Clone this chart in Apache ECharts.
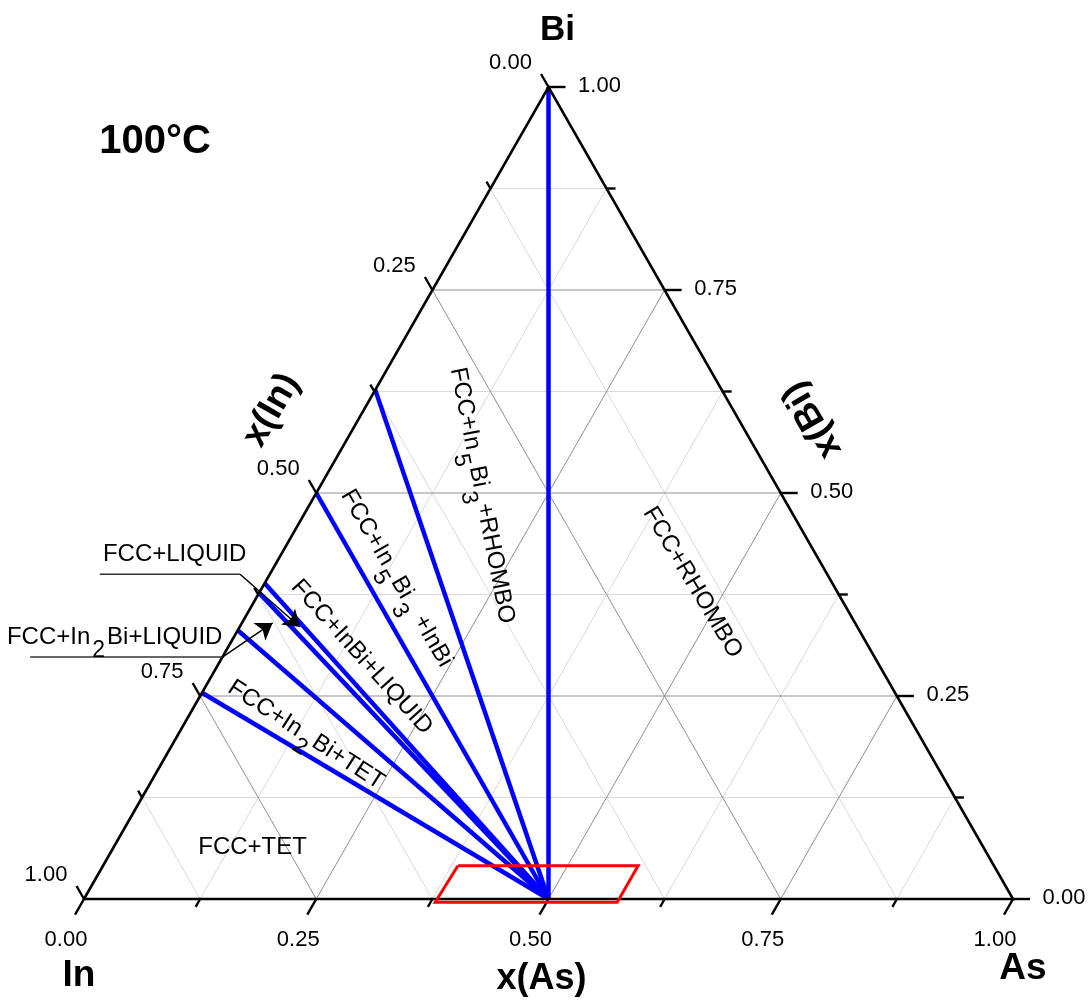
<!DOCTYPE html>
<html><head><meta charset="utf-8">
<script src="https://cdn.jsdelivr.net/npm/echarts@6/dist/echarts.min.js"></script>
<style>html,body{margin:0;padding:0;background:#fff}#c{width:1092px;height:1003px}</style>
</head><body><div id="c"></div>
<script>
// ===== DATA: ternary compositions given as [x(As), x(Bi)];  x(In) = 1 - x(As) - x(Bi) =====
const tickValues      = [0, 0.125, 0.25, 0.375, 0.5, 0.625, 0.75, 0.875, 1];
const majorTickValues = [0, 0.25, 0.5, 0.75, 1];
const tickLabels      = ['0.00', '0.25', '0.50', '0.75', '1.00'];
const leftTickLabels  = ['1.00', '0.75', '0.50', '0.25', '0.00'];   // x(In) along In→Bi edge
// tie lines: all start at InAs and end on the In–Bi edge
const tieStartAs = 0.5, tieStartBi = 0.0;
const tieEndAs = [0, 0, 0, 0, 0, 0, 0];
const tieEndBi = [1.0, 0.627, 0.5, 0.389, 0.377, 0.331, 0.254];
// red zoom box
const boxAs = [0.382, 0.576, 0.576, 0.380, 0.382];
const boxBi = [0.041, 0.041, -0.004, -0.004, 0.041];
// phase-region labels
const phaseText = [
  '{n|FCC+In}{s|5}{n|Bi}{s|3}{n|+RHOMBO}',
  '{n|FCC+In}{s|5}{n|Bi}{s|3}{n| +InBi}',
  '{n|FCC+InBi+LIQUID}',
  '{n|FCC+In}{s|2}{n|Bi+TET}',
  '{n|FCC+RHOMBO}',
  '{n|FCC+TET}',
  '{n|FCC+LIQUID}',
  '{n|FCC+In}{s|2}{n|Bi+LIQUID}'
];
const phaseAs  = [0.180, 0.139, 0.150, 0.138, 0.460, 0.150, -0.115, -0.128];
const phaseBi  = [0.497, 0.395, 0.298, 0.202, 0.390, 0.063, 0.425, 0.322];
const phaseRot = [-79, -60, -48, -33, -59, 0, 0, 0];
// callouts (underline + arrow) for the two narrow regions
const calloutUnderAs = [[-0.183, -0.032], [-0.207, 0.000]];
const calloutUnderBi = [[0.400, 0.400], [0.298, 0.298]];
const calloutArrowAs = [0.065, 0.033];
const calloutArrowBi = [0.335, 0.340];

// ===== helpers =====
const GW = 929, GH = 812;
const T = (as, bi) => [as + bi / 2, bi];
const seg = (a, b) => ({ coords: [a, b] });
const tDiag = L => L / Math.sqrt((GW / 2) ** 2 + GH ** 2);
const tHor = L => L / GW;

const minorGrid = [], majorGrid = [];
tickValues.slice(1, -1).forEach(c => {
  const arr = majorTickValues.includes(c) ? majorGrid : minorGrid;
  arr.push(seg(T(0, c), T(1 - c, c)));          // constant Bi
  arr.push(seg(T(c, 0), T(c, 1 - c)));          // constant As
  arr.push(seg(T(1 - c, 0), T(0, 1 - c)));      // constant In
});

const ticks = [];
tickValues.forEach(c => {
  const major = majorTickValues.includes(c);
  let t = tDiag(major ? 18 : 9);
  ticks.push(seg(T(c, 0), T(c, -t)));                       // bottom x(As)
  t = tDiag(major ? 15 : 8);
  ticks.push(seg(T(0, 1 - c), T(-t, 1 - c + t)));           // left x(In)
  t = tHor(major ? 17 : 9);
  ticks.push(seg(T(1 - c, c), T(1 - c + t, c)));            // right x(Bi)
});

const ties = tieEndBi.map((b, i) => seg(T(tieStartAs, tieStartBi), T(tieEndAs[i], b)));
const box = [{ coords: boxAs.map((a, i) => T(a, boxBi[i])) }];
const edges = [{ coords: [T(0, 0), T(1, 0), T(0, 1), T(0, 0)] }];
const underlines = calloutUnderAs.map((a, i) => seg(T(a[0], calloutUnderBi[i][0]), T(a[1], calloutUnderBi[i][1])));
const arrows = calloutUnderAs.map((a, i) => seg(T(a[1], calloutUnderBi[i][1]), T(calloutArrowAs[i], calloutArrowBi[i])));

const FONT = 'Liberation Sans';
const rich = {
  n: { fontSize: 24, lineHeight: 27, fontFamily: FONT, fill: '#000' },
  s: { fontSize: 23, lineHeight: 50, verticalAlign: 'bottom', fontFamily: FONT, fill: '#000', padding: [0, 2, 0, 2] }
};

// text annotations: position (data space), pixel offset, style
const texts = [];
majorTickValues.forEach((c, i) => {
  texts.push({ pos: T(c, 0), text: tickLabels[i], off: [-18, 41] });
  texts.push({ pos: T(0, c), text: leftTickLabels[i], off: [-38, -24] });
  texts.push({ pos: T(1 - c, c), text: tickLabels[i], off: [51, -1] });
});
const bold = (text, pos, off, size, rot) => ({ pos, text, off, size, bold: true, rot: rot || 0 });
texts.push(bold('Bi', T(0, 1), [9, -57], 35));
texts.push(bold('In', T(0, 0), [-5, 77], 37));
texts.push(bold('As', T(1, 0), [10, 70], 37));
texts.push(bold('x(As)', T(0.5, 0), [-7, 80], 36));
texts.push(bold('100°C', T(-0.391, 0.935), [0, 2], 40));
texts.push(bold('x(In)', T(-0.099, 0.602), [0, 0], 37, 60));
texts.push(bold('x(Bi)', T(0.489, 0.590), [0, 0], 37, 120));
phaseText.forEach((txt, i) => {
  texts.push({ pos: T(phaseAs[i], phaseBi[i]), text: txt, off: [0, 0], rot: phaseRot[i], rich: true });
});

const linesSeries = (data, color, width, z, extra) => Object.assign({
  type: 'lines', coordinateSystem: 'cartesian2d', polyline: true, clip: false, silent: true, z,
  lineStyle: { color, width, opacity: 1, cap: 'butt' }, data
}, extra || {});

const chart = echarts.init(document.getElementById('c'), null, { renderer: 'canvas' });
chart.setOption({
  animation: false,
  backgroundColor: '#fff',
  grid: { left: 84, top: 87, width: GW, height: GH },
  xAxis: { type: 'value', min: 0, max: 1, show: false },
  yAxis: { type: 'value', min: 0, max: 1, show: false },
  series: [
    linesSeries(minorGrid, '#d9d9d9', 1, 1),
    linesSeries(majorGrid, '#8f8f8f', 1, 2),
    linesSeries(ties, '#0000ff', 4.5, 3),
    linesSeries(edges, '#000', 2.6, 4),
    linesSeries(ticks, '#000', 2.4, 4),
    linesSeries(underlines, '#333', 1.5, 5),
    linesSeries(arrows, '#000', 1.5, 5, { polyline: false, symbol: ['none', 'arrow'], symbolSize: [9, 16] }),
    linesSeries(box, '#ff0000', 3, 6)
  ]
});

const elements = texts.map(t => {
  const p = chart.convertToPixel({ gridIndex: 0 }, t.pos);
  const size = t.size || 22;
  const style = {
    text: t.text, fill: '#000', align: 'center', verticalAlign: 'middle',
    font: (t.bold ? 'bold ' : '') + size + 'px "' + FONT + '"'
  };
  if (t.rich) { style.rich = rich; style.font = '24px "' + FONT + '"'; }
  return {
    type: 'text', x: p[0] + t.off[0], y: p[1] + t.off[1],
    rotation: (t.rot || 0) * Math.PI / 180, silent: true, z: 100, style
  };
});
chart.setOption({ graphic: { elements } });
</script></body></html>
